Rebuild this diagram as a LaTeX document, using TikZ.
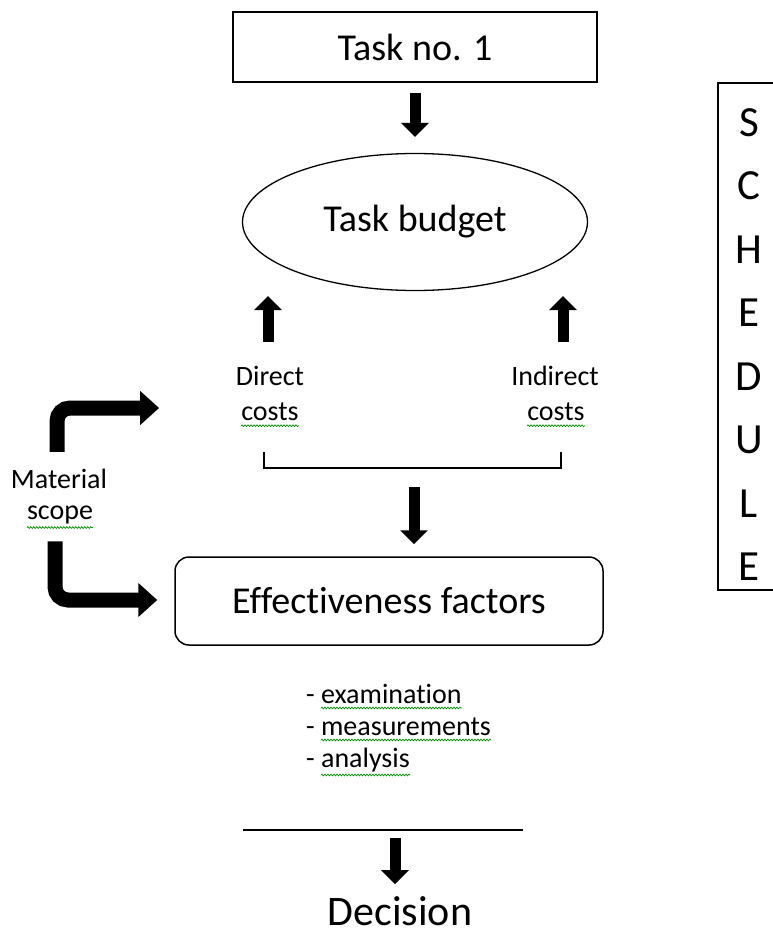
\documentclass[tikz,border=0pt]{standalone}
\usepackage{fontspec}
\setmainfont{Carlito}[Ligatures={NoCommon}]
\usetikzlibrary{arrows.meta,calc,shapes.geometric,decorations.pathmorphing}

\tikzset{
  fatarrow/.style={line width=11pt,-{Triangle[width=27pt,length=14pt]}},
  bentarrow/.style={line width=15pt,rounded corners=13pt,-{Triangle[width=33pt,length=19pt]}},
  squiggle/.style={draw=green!55!black,line width=0.7pt,decorate,
    decoration={snake,amplitude=0.9pt,segment length=3pt}},
  txt/.style={inner sep=0pt,font=\fontsize{28}{34}\selectfont},
  bigtxt/.style={inner sep=0pt,font=\fontsize{38}{44}\selectfont}
}

\begin{document}
\begin{tikzpicture}[x=1pt,y=-1pt]
        \useasboundingbox (0,0) rectangle (773,937);

        \node[draw,line width=1.5pt,minimum width=364pt,minimum height=70pt,bigtxt] (task) at (415,47) {Task no. 1};
        \node[draw,ellipse,line width=1.3pt,minimum width=345pt,minimum height=137pt,bigtxt] (budget) at (415,222) {Task budget};

        \node[txt] (direct) at (270,376) {Direct};
        \node[txt] (dcosts) at (270,412) {costs};
        \node[txt] (indirect) at (555,376) {Indirect};
        \node[txt] (icosts) at (556,412) {costs};

        \node[txt] (mat) at (59,479) {Material};
        \node[txt] (scope) at (60,515) {scope};

        \node[draw,line width=1.5pt,rounded corners=14pt,minimum width=428pt,minimum height=88pt,bigtxt] (eff) at (389,601) {Effectiveness factors};

        \node[txt,anchor=base west] (exam) at (306,703) {- examination};
        \node[txt,anchor=base west] (meas) at (306,735) {- measurements};
        \node[txt,anchor=base west] (anal) at (306,767) {- analysis};

        \node[inner sep=0pt,font=\fontsize{42}{48}\selectfont] (dec) at (400,911) {Decision};

        % bracket under the costs
        \draw[line width=1.5pt] (264,452) |- (561,468) -- (561,452);
        \coordinate (brk) at (414,468);

        % line above the decision
        \draw[line width=1.5pt] (243,830) -- (523,830);
        \coordinate (lmid) at (395,830);

        % arrows
        \draw[fatarrow,shorten <=10pt,shorten >=16pt] (task.south) -- (task.south |- budget.north);
        \draw[fatarrow,shorten <=24pt,shorten >=5pt] ([xshift=-2pt]direct.north) -- ([xshift=-2pt]direct.north |- budget.south);
        \draw[fatarrow,shorten <=24pt,shorten >=5pt] ([xshift=8pt]indirect.north) -- ([xshift=8pt]indirect.north |- budget.south);
        \draw[fatarrow,shorten <=19pt,shorten >=12pt] (brk) -- (brk |- eff.north);
        \draw[fatarrow,shorten <=8pt,shorten >=12pt] (lmid) -- (lmid |- dec.north);

        \draw[bentarrow,shorten <=17pt] ([xshift=-2pt]mat.north) |- ([xshift=-82pt,yshift=4pt]dcosts.west);
        \draw[bentarrow,shorten <=17pt,shorten >=17pt] ([xshift=-5pt]scope.south) |- ([yshift=1pt]eff.west);

        % schedule column
        \draw[line width=1.5pt] (774,83) -- (718,83) -- (718,590) -- (774,590);
        \foreach \l [count=\i from 0] in {S,C,H,E,D,U,L,E}
            \node[inner sep=0pt,font=\fontsize{43}{48}\selectfont] (sch\i) at (749,122.5+63.5*\i) {\l};

        % spelling marks
        \draw[squiggle] ([yshift=-5pt]dcosts.base west) -- ([yshift=-5pt]dcosts.base east);
        \draw[squiggle] ([yshift=-5pt]icosts.base west) -- ([yshift=-5pt]icosts.base east);
        \draw[squiggle] ([yshift=-8pt]scope.base west) -- ([yshift=-8pt]scope.base east);
        \draw[squiggle] ([xshift=15pt,yshift=-5pt]exam.base west) -- ([yshift=-5pt]exam.base east);
        \draw[squiggle] ([xshift=15pt,yshift=-5pt]meas.base west) -- ([yshift=-5pt]meas.base east);
        \draw[squiggle] ([xshift=15pt,yshift=-8pt]anal.base west) -- ([yshift=-8pt]anal.base east);

\end{tikzpicture}
\end{document}
